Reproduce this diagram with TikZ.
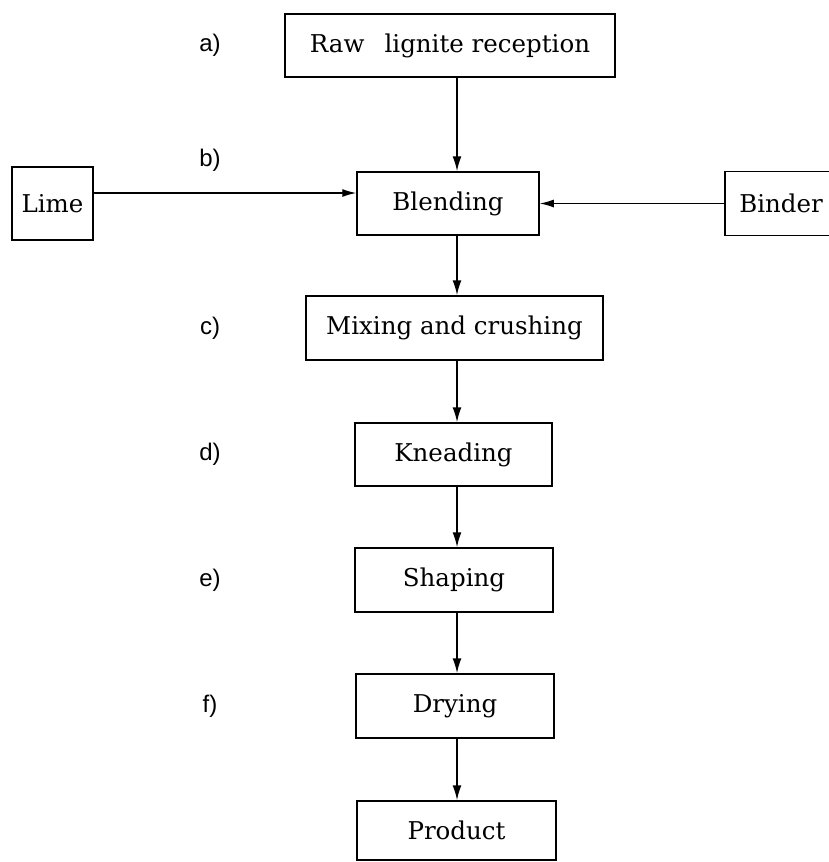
\documentclass[tikz,border=0pt]{standalone}
\usepackage{fontspec}
\setmainfont{DejaVu Serif}
\newfontfamily\labfont{Liberation Sans}
\usetikzlibrary{arrows.meta}
\begin{document}
\begin{tikzpicture}[x=1pt,y=-1pt,
  box/.style={draw,line width=1.5pt,rectangle,inner sep=0pt,font=\fontsize{24.5}{28}\selectfont},
  lab/.style={font=\labfont\fontsize{24}{28}\selectfont},
  arr/.style={line width=1.6pt,-{Latex[length=15pt,width=9pt]}},
  harr/.style={line width=1.3pt,-{Latex[length=14pt,width=8pt]}}]
\useasboundingbox (0,0) rectangle (829,862);
\fill[white] (0,0) rectangle (829,862);
% boxes
\node[box,minimum width=330pt,minimum height=63pt] (raw) at (450,45.5) {Raw\hspace{0.5em} lignite reception};
\node[box,minimum width=182pt,minimum height=63pt] (blend) at (448,203.5) {Blending};
\node[box,minimum width=297pt,minimum height=64pt] (mix) at (454.5,328) {Mixing and crushing};
\node[box,minimum width=197pt,minimum height=63pt] (knead) at (453.5,454.5) {Kneading};
\node[box,minimum width=198pt,minimum height=64pt] (shape) at (454,580) {Shaping};
\node[box,minimum width=198pt,minimum height=64pt] (dry) at (455,706) {Drying};
\node[box,minimum width=199pt,minimum height=59pt] (prod) at (456.5,830.5) {Product};
\node[box,minimum width=81pt,minimum height=73pt] (lime) at (52.5,203.5) {Lime};
\node[box,minimum width=112pt,minimum height=64pt] (binder) at (781,203.5) {Binder};
% labels
\node[lab] (la) at (210,45) {a)};
\node[lab] (lb) at (210,160) {b)};
\node[lab] (lc) at (210,328) {c)};
\node[lab] (ld) at (210,454) {d)};
\node[lab] (le) at (210,580) {e)};
\node[lab] (lf) at (210,706) {f)};
% connectors
\coordinate (col) at (457,0);
\coordinate (limerow) at (0,193);
\draw[arr] (raw.south -| col) -- (blend.north -| col);
\draw[arr] (blend.south -| col) -- (mix.north -| col);
\draw[arr] (mix.south -| col) -- (knead.north -| col);
\draw[arr] (knead.south -| col) -- (shape.north -| col);
\draw[arr] (shape.south -| col) -- (dry.north -| col);
\draw[arr] (dry.south -| col) -- (prod.north -| col);
\draw[harr] (lime.east |- limerow) -- (blend.west |- limerow);
\draw[harr] (binder.west) -- (blend.east);
\end{tikzpicture}
\end{document}
